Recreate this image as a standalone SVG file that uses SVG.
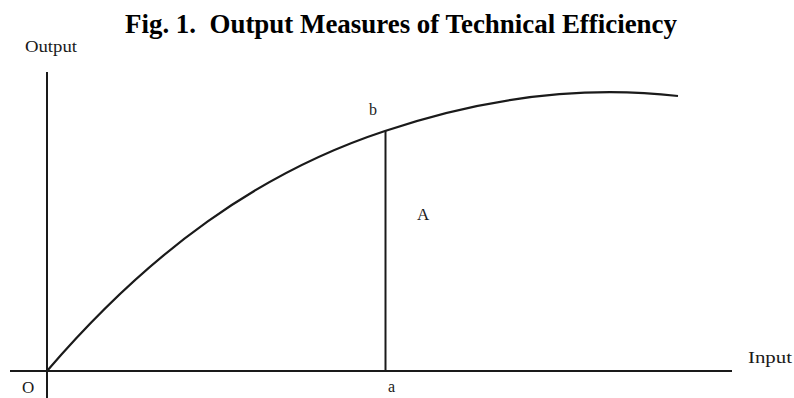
<svg xmlns="http://www.w3.org/2000/svg" width="794" height="398" viewBox="0 0 794 398">
<style>
text{font-family:"Liberation Serif","Times New Roman",serif;fill:#1a1a1a}
.lbl{font-size:16px}
.ax{stroke:#1a1a1a;stroke-width:2;fill:none}
.crv{stroke:#1a1a1a;stroke-width:2.2;fill:none}
</style>
<rect width="794" height="398" fill="#fff"/>
<text x="125" y="33" textLength="552" lengthAdjust="spacingAndGlyphs" xml:space="preserve" style="font-size:27px;font-weight:bold;fill:#000">Fig. 1.  Output Measures of Technical Efficiency</text>
<g id="axes">
<line class="ax" x1="47" y1="72" x2="47" y2="398"/>
<line class="ax" x1="10" y1="371" x2="732" y2="371"/>
<text class="lbl" x="25" y="52" textLength="52" lengthAdjust="spacingAndGlyphs">Output</text>
<text class="lbl" x="748" y="363" textLength="44" lengthAdjust="spacingAndGlyphs">Input</text>
<text class="lbl" x="22" y="393" style="font-size:17px">O</text>
</g>
<g id="connectors">
<path class="crv" d="M47,371 C150,251 260,172 385,131 C480,99 580,85 678,96"/>
<line class="ax" x1="385.5" y1="131" x2="385.5" y2="371"/>
</g>
<g id="labels">
<text class="lbl" x="369" y="115">b</text>
<text class="lbl" x="417" y="220" style="font-size:17px">A</text>
<text class="lbl" x="388" y="392">a</text>
</g>
</svg>
